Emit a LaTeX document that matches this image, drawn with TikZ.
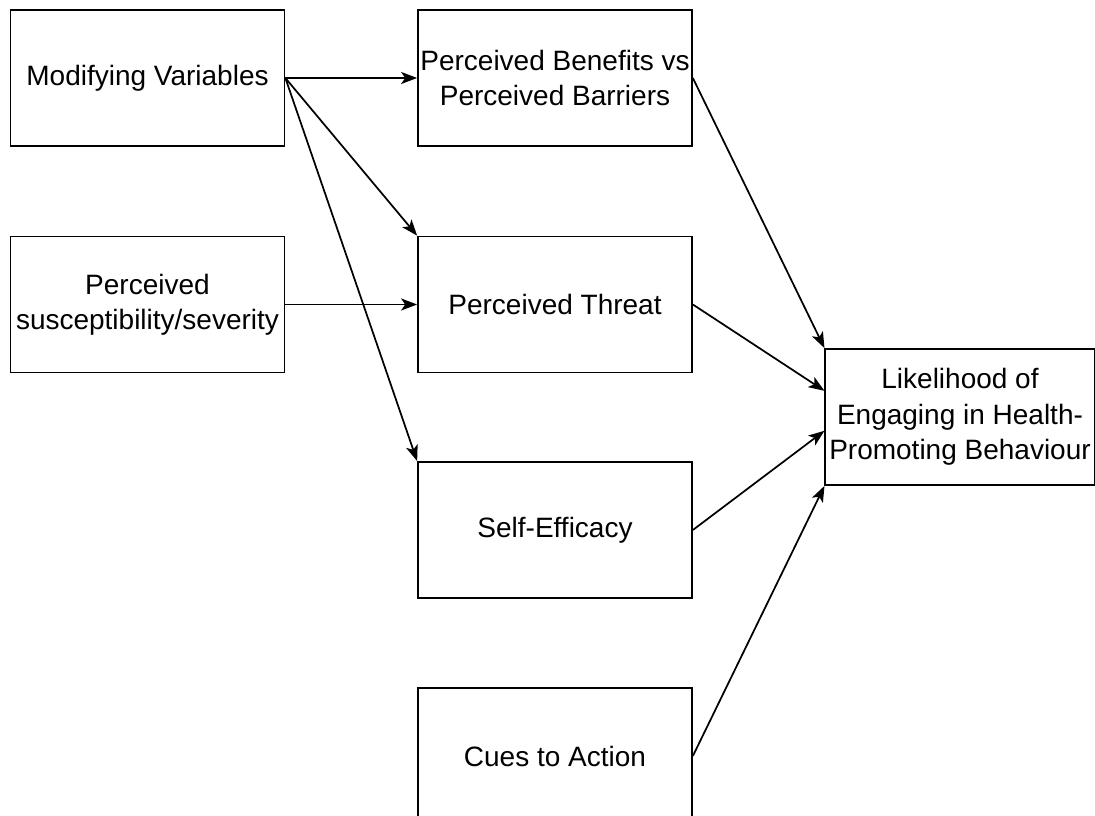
\documentclass[tikz,border=0pt]{standalone}
\usepackage{fontspec}
\setmainfont{Liberation Sans}
\usetikzlibrary{arrows.meta,positioning,calc}

\begin{document}
\begin{tikzpicture}[
  x=0.75pt,y=-0.75pt,
  font=\fontsize{21}{26.5}\selectfont,
  box/.style={draw,line width=1.3pt,align=center,minimum height=102pt,
              minimum width=205.5pt,inner sep=0pt},
  arrow/.style={-{Stealth[length=12pt,width=9pt,inset=3pt]},line width=1.3pt}
]
\useasboundingbox (0,0) rectangle (1095,816);
\node[box] (mod) at (147.5,78) {Modifying Variables};
\node[box] (sus) at (147.5,304.5) {Perceived\\susceptibility/severity};
\node[box] (ben) at (555,78) {Perceived Benefits vs\\Perceived Barriers};
\node[box] (thr) at (555,304.5) {Perceived Threat};
\node[box] (eff) at (555,530) {Self-Efficacy};
\node[box] (cue) at (555,756) {Cues to Action};
\node[box,minimum width=202pt] (lik) at (960,417) {Likelihood of\\Engaging in Health-\\Promoting Behaviour};
\draw[arrow] (mod.east) -- (ben.west);
\draw[arrow] (mod.east) -- (thr.north west);
\draw[arrow] (mod.east) -- (eff.north west);
\draw[arrow] (sus.east) -- (thr.west);
\draw[arrow] (ben.east) -- (lik.north west);
\draw[arrow] (thr.east) -- ($(lik.north west)!0.31!(lik.south west)$);
\draw[arrow] (eff.east) -- ($(lik.north west)!0.6!(lik.south west)$);
\draw[arrow] (cue.east) -- (lik.south west);
\end{tikzpicture}
\end{document}
